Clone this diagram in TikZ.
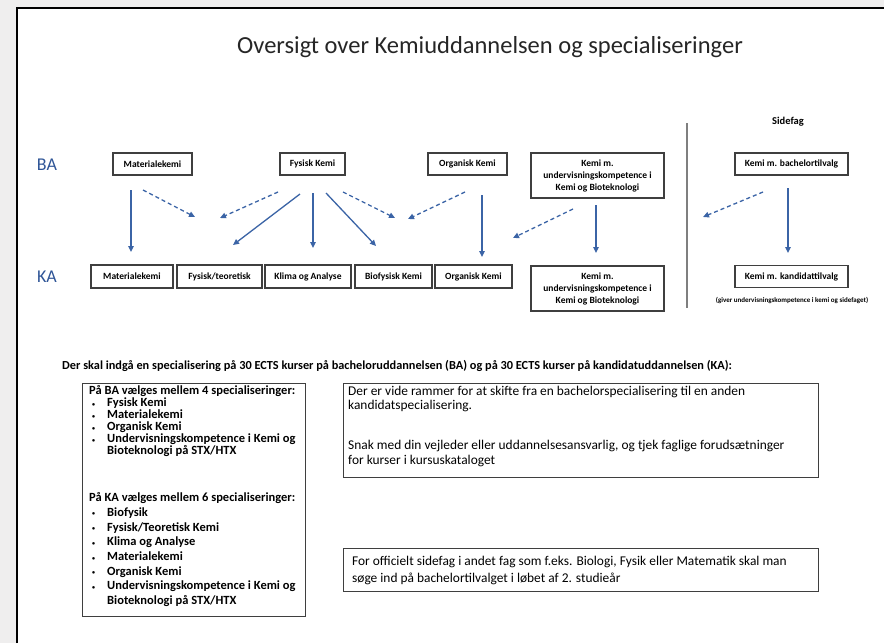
\documentclass[tikz,border=0pt]{standalone}
\usepackage{fontspec}
\setmainfont{Carlito}
\usetikzlibrary{arrows.meta}
\definecolor{arrowblue}{HTML}{3B64A6}
\definecolor{labelblue}{HTML}{2F5597}
\definecolor{boxgray}{HTML}{3F3F3F}
\definecolor{bggray}{HTML}{EFEEEE}
\definecolor{sepgray}{HTML}{7F7F7F}
\newcommand{\blt}{\hspace*{3pt}\makebox[15pt][l]{\raisebox{0.5pt}{\fontsize{6}{6}\selectfont\textbullet}}}
\begin{document}
\begin{tikzpicture}[x=1pt,y=-1pt,
  bx/.style={draw=boxgray, line width=1.3pt, fill=white, inner sep=1pt, align=center,
    font=\fontsize{9.5}{12}\selectfont\bfseries},
  txtbox/.style={draw=boxgray, line width=1.3pt, anchor=north west, inner sep=0pt},
  sarrow/.style={draw=arrowblue, line width=1.3pt, -{Triangle[length=6pt,width=5.5pt]}},
  darrow/.style={sarrow, dash pattern=on 4pt off 3pt},
  lvl/.style={text=labelblue, font=\fontsize{18}{21}\selectfont},
  para/.style={anchor=north west, inner sep=0pt, align=left, font=\fontsize{13.4}{14.8}\selectfont},
  listblock/.style={anchor=north west, inner sep=0pt, align=left}
]
\useasboundingbox (0,0) rectangle (884,643);
\fill[bggray] (0,0) rectangle (884,643);
\fill[white] (17,8) rectangle (884,643);
\draw[black, line width=2.5pt] (17,643) -- (17,8) -- (884,8);

% title
\node[font=\fontsize{24.5}{28}\selectfont, text=black!85] (title) at (490,47.5) {Oversigt over Kemiuddannelsen og specialiseringer};

% level labels
\node[lvl] (lBA) at (47,165) {BA};
\node[lvl] (lKA) at (47,277) {KA};

% BA boxes
\node[bx, minimum width=79pt, minimum height=22pt] (bMat) at (152.5,164) {Materialekemi};
\node[bx, minimum width=65pt, minimum height=22pt] (bFys) at (312.5,164) {Fysisk Kemi};
\node[bx, minimum width=79pt, minimum height=22pt] (bOrg) at (467.5,164) {Organisk Kemi};
\node[bx, minimum width=133pt, minimum height=45pt] (bUnd) at (597.5,175.5) {Kemi m.\\undervisningskompetence i\\Kemi og Bioteknologi};
\node[bx, minimum width=113pt, minimum height=22pt] (bTil) at (791.5,164) {Kemi m. bachelortilvalg};

% KA boxes
\node[bx, minimum width=82pt, minimum height=23pt] (kMat) at (132,276.5) {Materialekemi};
\node[bx, minimum width=85pt, minimum height=23pt] (kFys) at (219.5,276.5) {Fysisk/teoretisk};
\node[bx, minimum width=86pt, minimum height=23pt] (kKli) at (308,276.5) {Klima og Analyse};
\node[bx, minimum width=77pt, minimum height=23pt] (kBio) at (393.5,276.5) {Biofysisk Kemi};
\node[bx, minimum width=77pt, minimum height=23pt] (kOrg) at (473.5,276.5) {Organisk Kemi};
\node[bx, minimum width=133pt, minimum height=45pt] (kUnd) at (597.5,288.5) {Kemi m.\\undervisningskompetence i\\Kemi og Bioteknologi};
\node[bx, minimum width=113pt, minimum height=22pt] (kTil) at (791.5,276.5) {Kemi m. kandidattilvalg};

% Sidefag
\node[font=\fontsize{10.5}{12}\selectfont\bfseries] (sidefag) at (788,122) {Sidefag};
\node[font=\fontsize{7}{8}\selectfont\bfseries] (note) at (792,300) {(giver undervisningskompetence i kemi og sidefaget)};

% separator
\coordinate (sepT) at (687,123);
\coordinate (sepB) at (687,308);
\draw[sepgray, line width=1.5pt] (sepT) -- (sepB);

% arrow coordinates
\coordinate (a1s) at (131,190); \coordinate (a1e) at (131,252);
\coordinate (d1s) at (143,190); \coordinate (d1e) at (195,217);
\coordinate (d2s) at (278,192); \coordinate (d2e) at (220,218);
\coordinate (a2s) at (300,194); \coordinate (a2e) at (233,245);
\coordinate (a3s) at (313,193); \coordinate (a3e) at (313,248);
\coordinate (a4s) at (326,193); \coordinate (a4e) at (376,246);
\coordinate (d3s) at (343,192); \coordinate (d3e) at (395,218);
\coordinate (d4s) at (465,192); \coordinate (d4e) at (408,219);
\coordinate (a5s) at (482,195); \coordinate (a5e) at (482,257);
\coordinate (d5s) at (573,209); \coordinate (d5e) at (513,238);
\coordinate (a6s) at (596,205); \coordinate (a6e) at (596,253);
\coordinate (d6s) at (763,192); \coordinate (d6e) at (703,217);
\coordinate (a7s) at (788,188); \coordinate (a7e) at (788,253);

\draw[sarrow] (a1s) -- (a1e);
\draw[sarrow] (a2s) -- (a2e);
\draw[sarrow] (a3s) -- (a3e);
\draw[sarrow] (a4s) -- (a4e);
\draw[sarrow] (a5s) -- (a5e);
\draw[sarrow] (a6s) -- (a6e);
\draw[sarrow] (a7s) -- (a7e);
\draw[darrow] (d1s) -- (d1e);
\draw[darrow] (d2s) -- (d2e);
\draw[darrow] (d3s) -- (d3e);
\draw[darrow] (d4s) -- (d4e);
\draw[darrow] (d5s) -- (d5e);
\draw[darrow] (d6s) -- (d6e);

% sentence
\node[anchor=west, inner sep=0pt, font=\fontsize{12.3}{14}\selectfont\bfseries] (sent) at (62,366)
  {Der skal indgå en specialisering på 30 ECTS kurser på bacheloruddannelsen (BA) og på 30 ECTS kurser på kandidatuddannelsen (KA):};

% left box
\node[txtbox, minimum width=223pt, minimum height=233pt] (leftbox) at (82,383) {};
\node[listblock, font=\fontsize{12.5}{12}\selectfont\bfseries] (baList) at (89,385.5) {%
På BA vælges mellem 4 specialiseringer:\\
\blt Fysisk Kemi\\
\blt Materialekemi\\
\blt Organisk Kemi\\
\blt Undervisningskompetence i Kemi og\\
\hspace*{18pt}Bioteknologi på STX/HTX};
\node[listblock, font=\fontsize{12.5}{14.7}\selectfont\bfseries] (kaList) at (89,492.5) {%
På KA vælges mellem 6 specialiseringer:\\
\blt Biofysik\\
\blt Fysisk/Teoretisk Kemi\\
\blt Klima og Analyse\\
\blt Materialekemi\\
\blt Organisk Kemi\\
\blt Undervisningskompetence i Kemi og\\
\hspace*{18pt}Bioteknologi på STX/HTX};

% middle box
\node[txtbox, minimum width=475pt, minimum height=94pt] (midbox) at (343,383) {};
\node[para] (mid1) at (348,385.5) {Der er vide rammer for at skifte fra en bachelorspecialisering til en anden\\kandidatspecialisering.};
\node[para] (mid2) at (348,440) {Snak med din vejleder eller uddannelsesansvarlig, og tjek faglige forudsætninger\\for kurser i kursuskataloget};

% bottom box
\node[txtbox, minimum width=475pt, minimum height=43pt] (botbox) at (343,548) {};
\node[para, font=\fontsize{13.4}{17}\selectfont] (bot1) at (352,556) {For officielt sidefag i andet fag som f.eks. Biologi, Fysik eller Matematik skal man\\søge ind på bachelortilvalget i løbet af 2. studieår};
\end{tikzpicture}
\end{document}
